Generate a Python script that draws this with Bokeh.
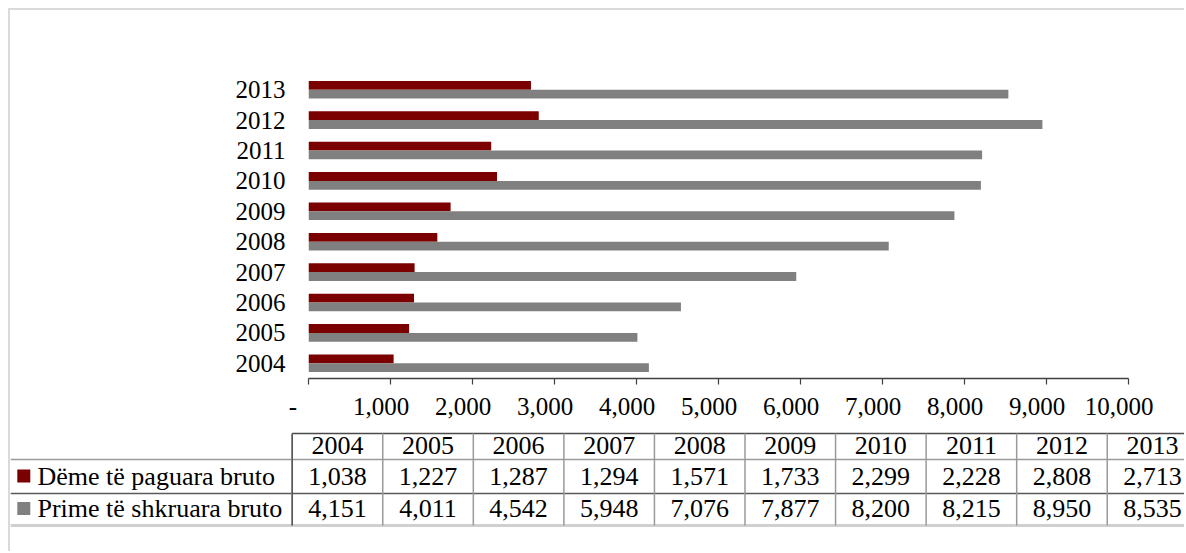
from bokeh.plotting import figure
from bokeh.models import FixedTicker, Range1d, FactorRange, ColumnDataSource
from bokeh.transform import dodge
from bokeh.layouts import column
from bokeh.core.properties import value
from bokeh.embed import file_html
from bokeh.resources import INLINE

# ---------------- data ----------------
years = ["2004", "2005", "2006", "2007", "2008", "2009", "2010", "2011", "2012", "2013"]
claims = [1038, 1227, 1287, 1294, 1571, 1733, 2299, 2228, 2808, 2713]
premiums = [4151, 4011, 4542, 5948, 7076, 7877, 8200, 8215, 8950, 8535]
series_names = ["Dëme të paguara bruto", "Prime të shkruara bruto"]
x_ticks = [0, 1000, 2000, 3000, 4000, 5000, 6000, 7000, 8000, 9000, 10000]
x_tick_labels = ["-", "1,000", "2,000", "3,000", "4,000", "5,000",
                 "6,000", "7,000", "8,000", "9,000", "10,000"]

# ---------------- style ----------------
FONT = "Liberation Serif"
RED = "#7b0000"
GRAY = "#808080"
AXIS = "#404040"
TXT = "#000000"
BORDER = "2px solid #dadada"
W = 1176

# ---------------- bar chart ----------------
src = ColumnDataSource(dict(year=years, claims=claims, premiums=premiums))

p = figure(width=W, height=415, y_range=FactorRange(*years), x_range=Range1d(0, 10000),
           output_backend="svg", toolbar_location=None,
           min_border_left=298, min_border_right=58, min_border_top=64, min_border_bottom=47,
           styles={"border-left": BORDER, "border-top": BORDER})
p.frame_align = False
p.outline_line_color = None
p.xgrid.visible = False
p.ygrid.visible = False
p.background_fill_color = "white"

bh = 0.29
p.hbar(y=dodge("year", bh / 2, range=p.y_range), right="claims", left=0, height=bh,
       source=src, color=RED, line_color=None)
p.hbar(y=dodge("year", -bh / 2, range=p.y_range), right="premiums", left=0, height=bh,
       source=src, color=GRAY, line_color=None)

pad_small = "\u00a0" * 3
pad_dash = "\u00a0" * 5
overrides = {}
for tk, lab in zip(x_ticks, x_tick_labels):
    overrides[tk] = lab + (pad_dash if lab == "-" else pad_small)

xa = p.xaxis[0]
xa.ticker = FixedTicker(ticks=x_ticks)
xa.major_label_overrides = overrides
xa.axis_line_color = AXIS
xa.axis_line_width = 1.5
xa.major_tick_line_color = AXIS
xa.major_tick_line_width = 1.2
xa.major_tick_out = 6
xa.major_tick_in = 0
xa.minor_tick_line_color = None
xa.major_label_text_font = FONT
xa.major_label_text_font_size = "25px"
xa.major_label_text_color = TXT
xa.major_label_standoff = 8

ya = p.yaxis[0]
ya.axis_line_color = None
ya.major_tick_line_color = None
ya.minor_tick_line_color = None
ya.major_tick_out = 0
ya.major_tick_in = 0
ya.major_label_standoff = 23
ya.major_label_text_font = FONT
ya.major_label_text_font_size = "25px"
ya.major_label_text_color = TXT

# ---------------- data table ----------------
H2 = 128
t = figure(width=W, height=H2, x_range=Range1d(0, W), y_range=Range1d(H2, 0),
           output_backend="svg", toolbar_location=None,
           x_axis_location=None, y_axis_location=None,
           min_border_left=0, min_border_right=0, min_border_top=0, min_border_bottom=0,
           styles={"border-left": BORDER})
t.frame_align = False
t.outline_line_color = None
t.xgrid.visible = False
t.ygrid.visible = False

COL0 = 281.7      # left edge of first year column
COLW = 90.56      # column width
ROW_LINES = [10, 36, 70, 102]
ROW_MID = [21.5, 53, 85]

ncol = len(years)
col_edges = [COL0 + COLW * k for k in range(ncol + 1)]
col_mid = [COL0 + COLW * (k + 0.5) for k in range(ncol)]

# horizontal lines
t.segment(x0=[COL0], y0=[ROW_LINES[0]], x1=[W], y1=[ROW_LINES[0]], line_color="#4a4a4a", line_width=1.5)
t.segment(x0=[0], y0=[ROW_LINES[1]], x1=[W], y1=[ROW_LINES[1]], line_color="#9a9a9a", line_width=1.5)
t.segment(x0=[0], y0=[ROW_LINES[2]], x1=[W], y1=[ROW_LINES[2]], line_color="#5a5a5a", line_width=1.5)
t.segment(x0=[0], y0=[ROW_LINES[3]], x1=[W], y1=[ROW_LINES[3]], line_color="#d0d0d0", line_width=3)
# vertical lines
vx = [e for e in col_edges if e < W]
t.segment(x0=vx, y0=[ROW_LINES[0]] * len(vx), x1=vx, y1=[ROW_LINES[3]] * len(vx),
          line_color="#9a9a9a", line_width=1.5)
t.segment(x0=[COL0], y0=[ROW_LINES[0]], x1=[COL0], y1=[ROW_LINES[3]], line_color="#555555", line_width=1.5)

fmt = lambda v: f"{v:,}"
txt_kw = dict(text_align="center", text_baseline="middle", text_font=value(FONT),
              text_font_size="26px", text_color=TXT)
t.text(x=col_mid, y=[ROW_MID[0]] * ncol, text=years, **txt_kw)
t.text(x=col_mid, y=[ROW_MID[1]] * ncol, text=[fmt(v) for v in claims], **txt_kw)
t.text(x=col_mid, y=[ROW_MID[2]] * ncol, text=[fmt(v) for v in premiums], **txt_kw)

# legend keys and row names
t.scatter(x=[13.3, 13.3], y=[ROW_MID[1] - 0.5, ROW_MID[2]], marker="square", size=13,
          color=[RED, GRAY], line_color=None)
t.text(x=[27, 27], y=[ROW_MID[1], ROW_MID[2]], text=series_names, text_align="left",
       text_baseline="middle", text_font=value(FONT), text_font_size="26px", text_color=TXT)

layout = column(p, t, styles={"padding-left": "8px", "padding-top": "8px"})
open("out.html", "w").write(file_html(layout, INLINE))
